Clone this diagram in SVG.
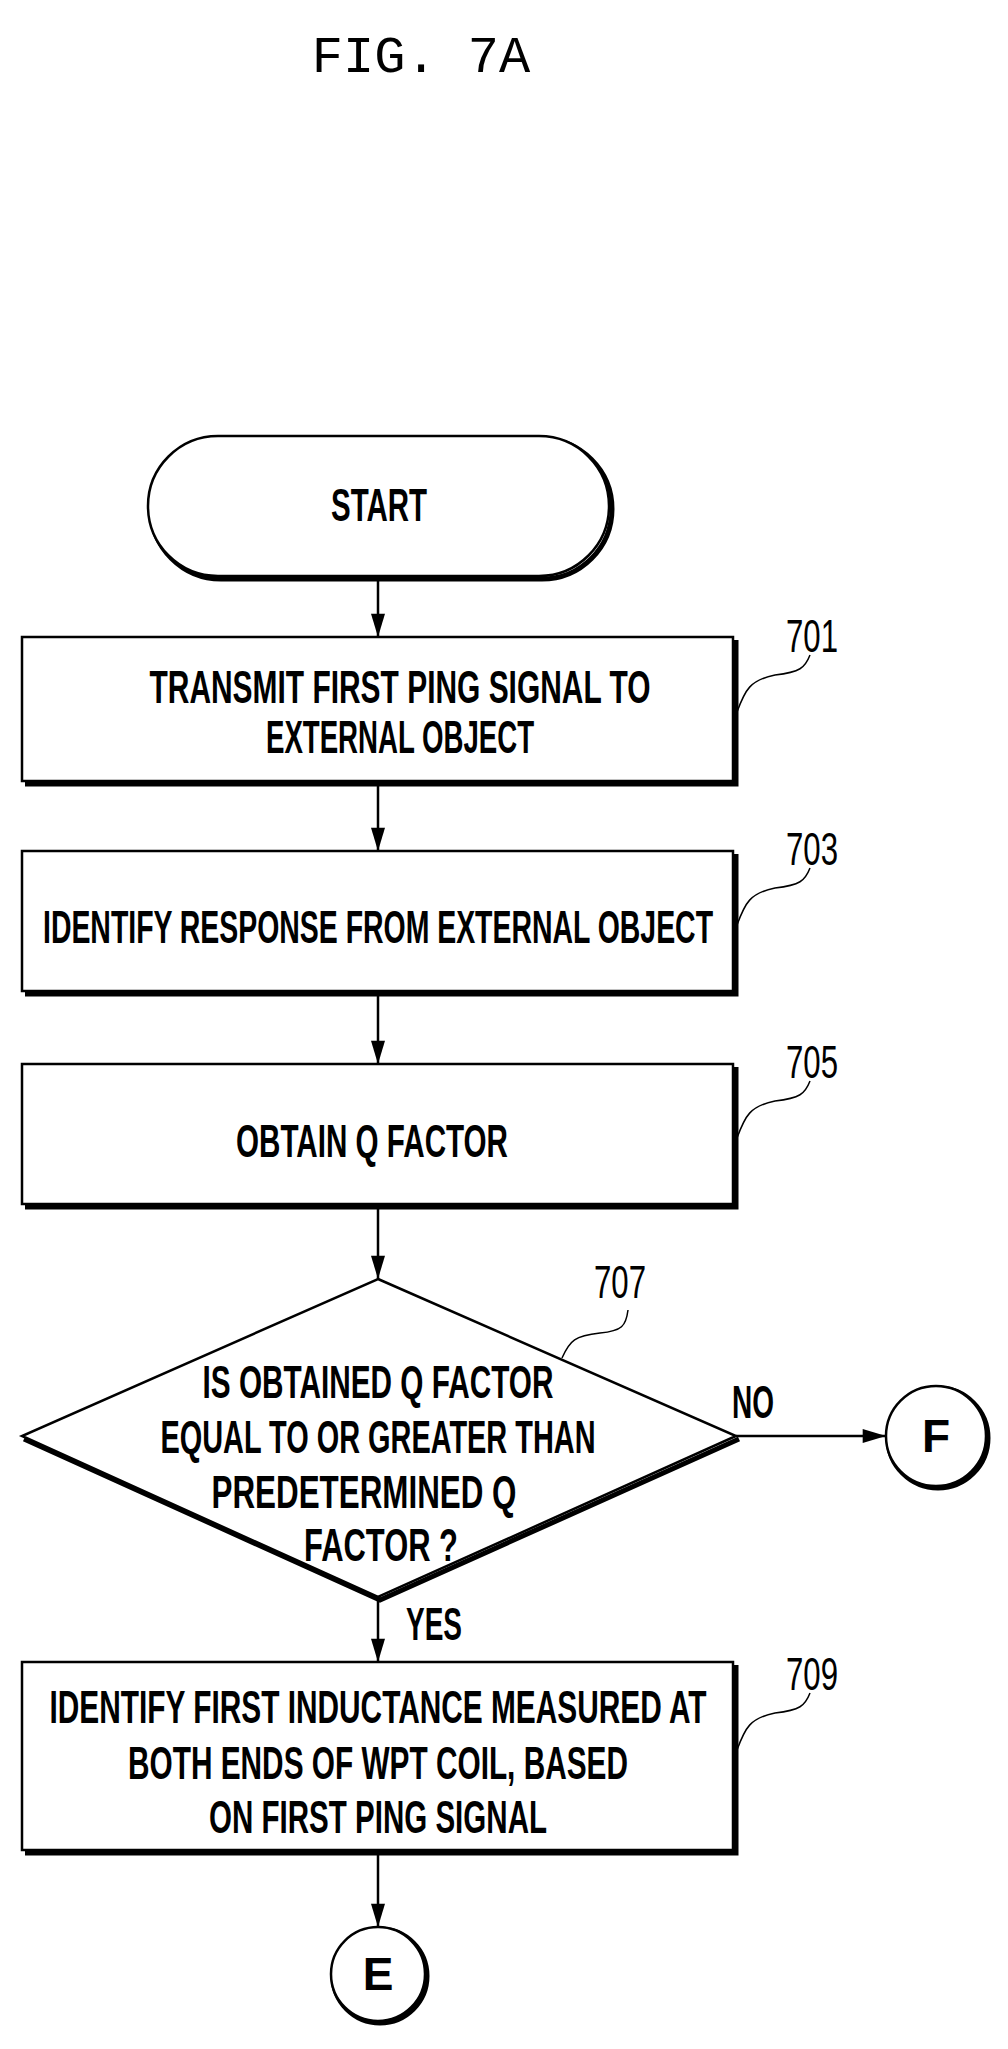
<svg xmlns="http://www.w3.org/2000/svg" width="1008" height="2049" viewBox="0 0 1008 2049">
<style>
.b{fill:#fff;stroke:#000;stroke-width:2.5}
.sh{fill:none;stroke:#000;stroke-width:5}
.t{font-family:"Liberation Sans",Arial,sans-serif;font-weight:bold;font-size:46px;fill:#000}
.n{font-family:"Liberation Sans",Arial,sans-serif;font-size:46px;fill:#000}
.c{stroke:#000;stroke-width:2.5;fill:none}
.l{stroke:#000;stroke-width:1.5;fill:none}
</style>
<defs><marker id="ar" viewBox="0 0 20 12" refX="20" refY="6" markerWidth="24" markerHeight="14" markerUnits="userSpaceOnUse" orient="auto"><path d="M0,0 L20,6 L0,12 z" fill="#000"/></marker></defs>
<text x="421" y="72" text-anchor="middle" style="font-family:'Liberation Mono',monospace;font-size:52px">FIG. 7A</text>
<g id="connectors">
<line class="c" x1="378" y1="578" x2="378" y2="637" marker-end="url(#ar)"/>
<line class="c" x1="378" y1="784" x2="378" y2="851" marker-end="url(#ar)"/>
<line class="c" x1="378" y1="994" x2="378" y2="1064" marker-end="url(#ar)"/>
<line class="c" x1="378" y1="1207" x2="378" y2="1279" marker-end="url(#ar)"/>
<line class="c" x1="378" y1="1597" x2="378" y2="1662" marker-end="url(#ar)"/>
<line class="c" x1="736" y1="1436" x2="886" y2="1436" marker-end="url(#ar)"/>
<line class="c" x1="378" y1="1853" x2="378" y2="1927" marker-end="url(#ar)"/>
<text class="t" x="732" y="1418" textLength="42" lengthAdjust="spacingAndGlyphs">NO</text>
<text class="t" x="406" y="1640" textLength="56" lengthAdjust="spacingAndGlyphs">YES</text>
</g>
<g id="start">
<rect class="sh" x="151" y="439" width="461" height="140" rx="70"/>
<rect class="b" x="148" y="436" width="461" height="140" rx="70"/>
<text class="t" x="379" y="521" text-anchor="middle" textLength="96" lengthAdjust="spacingAndGlyphs">START</text>
</g>
<g id="n701">
<polyline class="sh" points="25,784 736,784 736,640"/>
<rect class="b" x="22" y="637" width="711" height="144"/>
<text class="t" x="400" y="703" text-anchor="middle" textLength="501" lengthAdjust="spacingAndGlyphs">TRANSMIT FIRST PING SIGNAL TO</text>
<text class="t" x="400" y="753" text-anchor="middle" textLength="268" lengthAdjust="spacingAndGlyphs">EXTERNAL OBJECT</text>
<path class="l" d="M737,712 C745,690 750,680 775,675 C800,672 805,668 810,655"/>
<text class="n" x="786" y="652" textLength="52" lengthAdjust="spacingAndGlyphs">701</text>
</g>
<g id="n703">
<polyline class="sh" points="25,994 736,994 736,854"/>
<rect class="b" x="22" y="851" width="711" height="140"/>
<text class="t" x="378" y="943" text-anchor="middle" textLength="670" lengthAdjust="spacingAndGlyphs">IDENTIFY RESPONSE FROM EXTERNAL OBJECT</text>
<path class="l" d="M737,925 C745,903 750,893 775,888 C800,885 805,881 810,868"/>
<text class="n" x="786" y="865" textLength="52" lengthAdjust="spacingAndGlyphs">703</text>
</g>
<g id="n705">
<polyline class="sh" points="25,1207 736,1207 736,1067"/>
<rect class="b" x="22" y="1064" width="711" height="140"/>
<text class="t" x="372" y="1157" text-anchor="middle" textLength="272" lengthAdjust="spacingAndGlyphs">OBTAIN Q FACTOR</text>
<path class="l" d="M737,1138 C745,1116 750,1106 775,1101 C800,1098 805,1094 810,1081"/>
<text class="n" x="786" y="1078" textLength="52" lengthAdjust="spacingAndGlyphs">705</text>
</g>
<g id="n707">
<polyline class="sh" points="24,1439 380,1600 739,1439"/>
<polygon class="b" points="378,1279 736,1436 378,1597 22,1436"/>
<text class="t" x="378" y="1398" text-anchor="middle" textLength="351" lengthAdjust="spacingAndGlyphs">IS OBTAINED Q FACTOR</text>
<text class="t" x="378" y="1453" text-anchor="middle" textLength="435" lengthAdjust="spacingAndGlyphs">EQUAL TO OR GREATER THAN</text>
<text class="t" x="364" y="1508" text-anchor="middle" textLength="305" lengthAdjust="spacingAndGlyphs">PREDETERMINED Q</text>
<text class="t" x="381" y="1561" text-anchor="middle" textLength="154" lengthAdjust="spacingAndGlyphs">FACTOR ?</text>
<path class="l" d="M562,1358 C570,1340 575,1336 600,1333 C622,1331 626,1326 628,1310"/>
<text class="n" x="594" y="1298" textLength="52" lengthAdjust="spacingAndGlyphs">707</text>
</g>
<g id="nF">
<circle class="sh" cx="938" cy="1438" r="50"/>
<circle class="b" cx="936" cy="1436" r="50"/>
<text class="t" x="936" y="1452" text-anchor="middle">F</text>
</g>
<g id="n709">
<polyline class="sh" points="25,1853 736,1853 736,1665"/>
<rect class="b" x="22" y="1662" width="711" height="188"/>
<text class="t" x="378" y="1723" text-anchor="middle" textLength="657" lengthAdjust="spacingAndGlyphs">IDENTIFY FIRST INDUCTANCE MEASURED AT</text>
<text class="t" x="378" y="1779" text-anchor="middle" textLength="500" lengthAdjust="spacingAndGlyphs">BOTH ENDS OF WPT COIL, BASED</text>
<text class="t" x="378" y="1833" text-anchor="middle" textLength="338" lengthAdjust="spacingAndGlyphs">ON FIRST PING SIGNAL</text>
<path class="l" d="M737,1750 C745,1728 750,1718 775,1713 C800,1710 805,1706 810,1693"/>
<text class="n" x="786" y="1690" textLength="52" lengthAdjust="spacingAndGlyphs">709</text>
</g>
<g id="nE">
<circle class="sh" cx="380" cy="1976" r="47"/>
<circle class="b" cx="378" cy="1974" r="47"/>
<text class="t" x="378" y="1990" text-anchor="middle">E</text>
</g>
</svg>
